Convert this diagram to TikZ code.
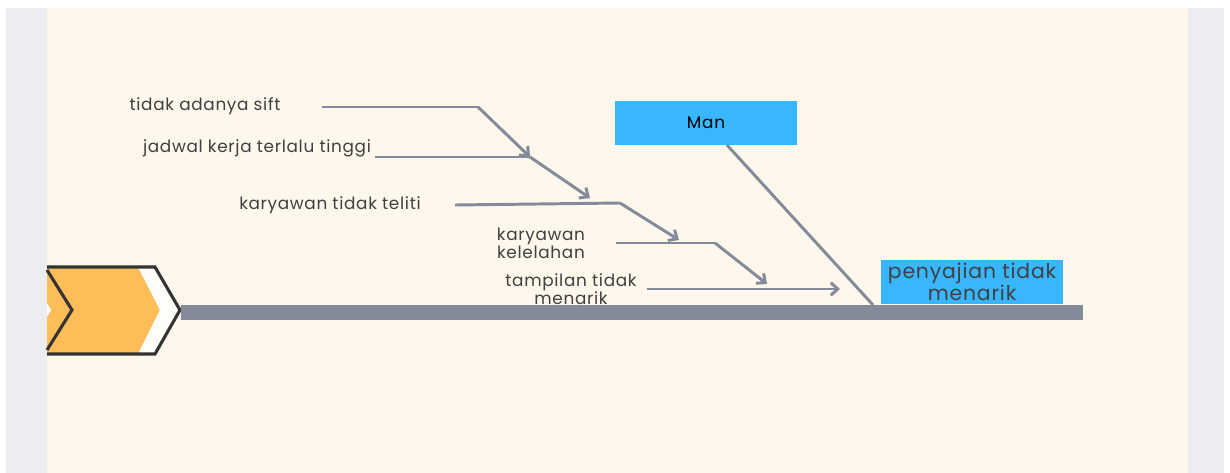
\documentclass[tikz,border=0pt]{standalone}
\usepackage{fontspec}
\setmainfont{Poppins}[LetterSpace=4]
\usepackage{xcolor}
\usetikzlibrary{arrows.meta,positioning}
\definecolor{creamback}{RGB}{254,247,236}
\definecolor{sidegrey}{RGB}{236,237,241}
\definecolor{bonegrey}{RGB}{131,138,153}
\definecolor{headblue}{RGB}{56,182,255}
\definecolor{chevorange}{RGB}{255,189,89}
\definecolor{chevdark}{RGB}{51,51,51}
\definecolor{textgrey}{RGB}{64,64,64}

\begin{document}
\begin{tikzpicture}[x=0.025cm, y=-0.025cm,
    cause/.style={font=\fontsize{12}{12.8}\selectfont, text=textgrey, align=center, inner sep=1pt},
    category/.style={rectangle, fill=headblue, minimum width=4.55cm, minimum height=1.12cm, align=center, inner sep=1pt},
    bone/.style={bonegrey, line width=2.1pt},
    arrow/.style={bone, -{Straight Barb[length=5pt, width=9pt, line width=2.1pt]}}
]

% background
\useasboundingbox (0,0) rectangle (1230,473);
\fill[white] (0,0) rectangle (1230,473);
\fill[sidegrey] (6,8) rectangle (47,473);
\fill[sidegrey] (1188,8) rectangle (1224,473);
\fill[creamback] (47,8) rectangle (1188,473);

% chevron
\fill[chevorange] (47,267) -- (138,267) -- (160,310) -- (138,354) -- (47,354) -- cycle;
\fill[white!70!creamback] (138,267) -- (155,267) -- (180,310) -- (155,354) -- (138,354) -- (160,310) -- cycle;
\fill[white] (47,303) -- (51,310) -- (47,317) -- cycle;
\draw[chevdark, line width=2.2pt, line join=miter] (47,267) -- (155,267) -- (180,310) -- (155,354) -- (47,354);
\draw[chevdark, line width=2.2pt, line join=miter] (47,270) -- (72,310) -- (47,350);

% spine
\fill[bonegrey] (181,305) rectangle (1083,320);

% heads
\node[category, font=\fontsize{14.5}{15.6}\selectfont, text=textgrey] (problem) at (972,282) {penyajian tidak\\menarik};
\node[category, font=\fontsize{12}{13}\selectfont, text=black] (man) at (706,123) {Man};

% causes
\node[cause] (sift) at (205,106) {tidak adanya sift};
\node[cause] (jadwal) at (257,148) {jadwal kerja terlalu tinggi};
\node[cause] (teliti) at (330,205) {karyawan tidak teliti};
\node[cause] (lelah) at (541,243) {karyawan\\kelelahan};
\node[cause] (tampilan) at (571,289) {tampilan tidak\\menarik};

% bone points
\coordinate (s1) at (322,107);
\coordinate (b1) at (478,107);
\coordinate (s2) at (375,157);
\coordinate (b2) at (530,157);
\coordinate (t2) at (590,198);
\coordinate (s3) at (455,205);
\coordinate (b3) at (620,203);
\coordinate (t3) at (679,240);
\coordinate (s4) at (616,243);
\coordinate (b4) at (715,243);
\coordinate (t4) at (767,284);
\coordinate (s5) at (647,289);
\coordinate (t5) at (840,289);
\coordinate (manfoot) at (727,145);
\coordinate (spinefoot) at (873,305);

\draw[bone] (s1) -- (b1);
\draw[arrow] (b1) -- (b2);
\draw[bone] (s2) -- (b2);
\draw[arrow] (b2) -- (t2);
\draw[bone] (s3) -- (b3);
\draw[arrow] (b3) -- (t3);
\draw[bone] (s4) -- (b4);
\draw[arrow] (b4) -- (t4);
\draw[arrow] (s5) -- (t5);
\draw[bone] (manfoot) -- (spinefoot);

\end{tikzpicture}
\end{document}
